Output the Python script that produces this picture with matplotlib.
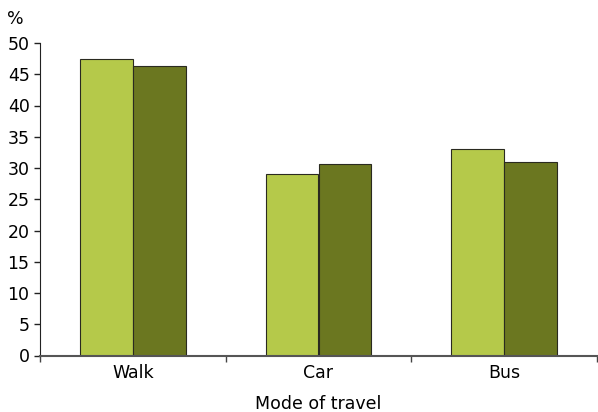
import matplotlib
matplotlib.use("Agg")
import matplotlib.pyplot as plt
import numpy as np

categories = ["Walk", "Car", "Bus"]
series_a = [47.5, 29.0, 33.1]
series_b = [46.4, 30.6, 31.0]
y_ticks = [0, 5, 10, 15, 20, 25, 30, 35, 40, 45, 50]

plt.rcParams['font.family'] = ['DejaVu Sans']
FS = 12.5

fig = plt.figure(figsize=(5.98, 4.12), dpi=100)
ax = fig.add_axes([40/598, 1-355.5/412, 557/598, (355.5-43)/412])

x = np.arange(len(categories))
w = 0.285
ax.bar(x - w/2, series_a, w, color='#b5c94a', edgecolor='#2a2a20', linewidth=0.8, zorder=2)
ax.bar(x + w/2, series_b, w, color='#6b7720', edgecolor='#2a2a20', linewidth=0.8, zorder=2)

ax.set_xlim(-0.5, len(categories) - 0.5)
ax.set_ylim(0, 50)
ax.set_yticks(y_ticks)
ax.set_yticklabels([str(t) for t in y_ticks], fontsize=FS)

ax.set_xticks(np.arange(len(categories) + 1) - 0.5)
ax.set_xticklabels([])
ax.set_xticks(x, minor=True)
ax.set_xticklabels(categories, minor=True, fontsize=FS)
ax.tick_params(axis='x', which='minor', length=0, pad=6)
ax.tick_params(axis='x', which='major', length=4, width=1, color='#444444', direction='out')
ax.tick_params(axis='y', length=4, width=1, color='#222222', direction='out', pad=3.5)

for s in ['top', 'right']:
    ax.spines[s].set_visible(False)
ax.spines['left'].set_color('#222222')
ax.spines['bottom'].set_color('#555555')
ax.spines['bottom'].set_linewidth(1.5)

fig.text(7/598, 1-19/412, '%', fontsize=FS, va='center', ha='left')
fig.text(318/598, 1-409/412, 'Mode of travel', fontsize=FS, va='baseline', ha='center')

fig.savefig('out.png', dpi=100)
